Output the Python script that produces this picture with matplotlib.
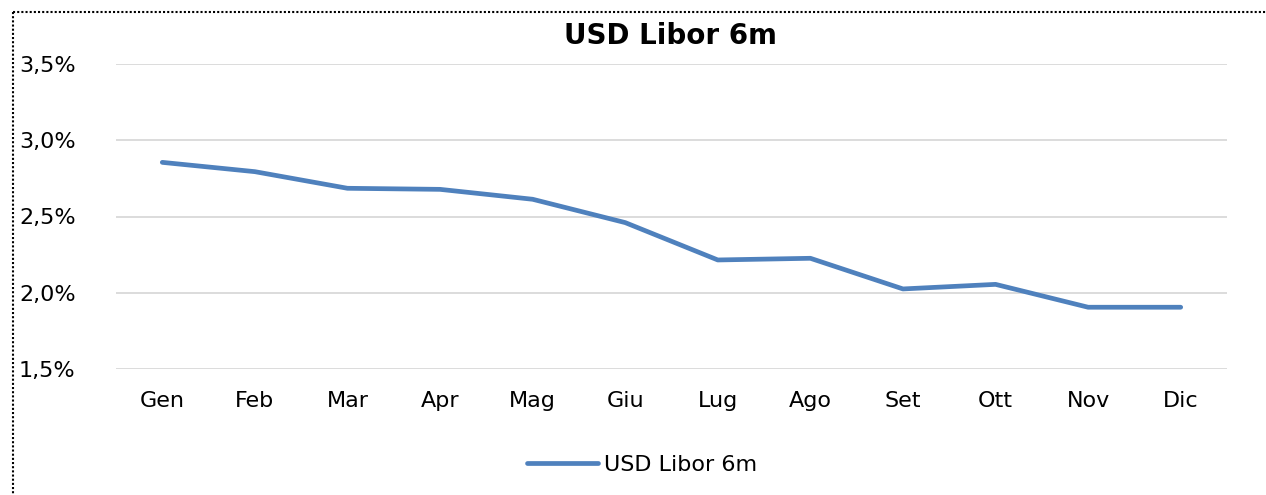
import matplotlib
matplotlib.use("Agg")
import matplotlib.pyplot as plt
from matplotlib.lines import Line2D
from matplotlib.ticker import FuncFormatter

months = ["Gen", "Feb", "Mar", "Apr", "Mag", "Giu", "Lug", "Ago", "Set", "Ott", "Nov", "Dic"]
libor_6m = [2.855, 2.794, 2.685, 2.678, 2.613, 2.46, 2.215, 2.226, 2.025, 2.055, 1.905, 1.905]
series_name = "USD Libor 6m"
y_ticks = [1.5, 2.0, 2.5, 3.0, 3.5]

plt.rcParams['font.family'] = ['DejaVu Sans']

W, H = 1266, 495
fig = plt.figure(figsize=(W / 100, H / 100), dpi=100)
left, right, top, bottom = 116, 1227, 64, 369
ax = fig.add_axes([left / W, 1 - bottom / H, (right - left) / W, (bottom - top) / H])

x = list(range(len(months)))
line, = ax.plot(x, libor_6m, color="#4F81BD", lw=3.4, solid_capstyle="round",
                solid_joinstyle="round", label=series_name, zorder=3)

ax.set_xlim(-0.5, len(months) - 0.5)
ax.set_ylim(y_ticks[0], y_ticks[-1])
ax.set_yticks(y_ticks)
ax.yaxis.set_major_formatter(FuncFormatter(lambda v, p: f"{v:.1f}%".replace(".", ",")))
ax.set_xticks(x)
ax.set_xticklabels(months)
ax.grid(axis="y", color="#D9D9D9", lw=1.3, zorder=0)
ax.tick_params(axis="both", length=0, labelsize=16, colors="black")
ax.tick_params(axis="x", pad=16)
for s in ax.spines.values():
    s.set_visible(False)

# y labels left aligned at x ~ 20px
for lbl in ax.get_yticklabels():
    lbl.set_horizontalalignment("left")
ax.tick_params(axis="y", pad=(left - 19) * 72 / 100)

fig.text(670 / W, 1 - 36 / H, series_name, ha="center", va="center",
         fontsize=20, fontweight="bold")

fig.legend(handles=[line], labels=[series_name], loc="center",
           bbox_to_anchor=(642 / W, 1 - 465 / H), frameon=False, fontsize=16,
           handlelength=3.2, handletextpad=0.25)

# dotted border (top and left)
fig.add_artist(Line2D([13 / W, 1.0], [1 - 12 / H, 1 - 12 / H], transform=fig.transFigure,
                      color="black", lw=1.5, ls=(0, (1, 1.0))))
fig.add_artist(Line2D([13 / W, 13 / W], [1 - 12 / H, 0.0], transform=fig.transFigure,
                      color="black", lw=1.5, ls=(0, (1, 1.0))))

fig.savefig("out.png", dpi=100)
